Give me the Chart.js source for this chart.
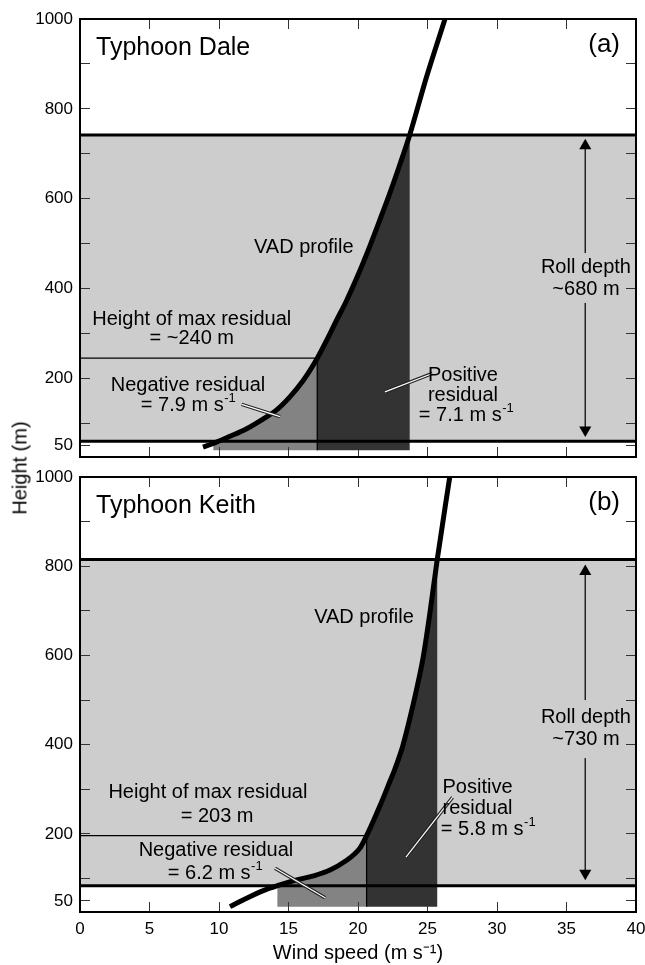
<!DOCTYPE html>
<html>
<head>
<meta charset="utf-8">
<script src="https://cdn.jsdelivr.net/npm/chart.js@4.4.1/dist/chart.umd.min.js"></script>
<style>
  html, body { margin: 0; padding: 0; background: #fff; }
  #wrap { position: relative; width: 645px; height: 965px; font-family: "Liberation Sans", Arial, sans-serif; }
  #topChart { position: absolute; left: 0; top: 0; }
  #botChart { position: absolute; left: 0; top: 470px; }
  #ylab { position: absolute; left: 20px; top: 468px; transform: translate(-50%, -50%) rotate(-90deg);
          font-size: 20px; white-space: nowrap; color: #000; }
</style>
</head>
<body>
<div id="wrap">
  <canvas id="topChart" width="645" height="470"></canvas>
  <canvas id="botChart" width="645" height="495"></canvas>
  <div id="ylab">Height (m)</div>
</div>
<script>
// axes
const windTicks = [0, 5, 10, 15, 20, 25, 30, 35, 40];
const heightTicks = [50, 100, 200, 300, 400, 500, 600, 700, 800, 900, 1000];
const heightLabels = [50, 200, 400, 600, 800, 1000];

// (a) Typhoon Dale - VAD wind profile
const daleSpeed  = [8.85, 9.59, 10.79, 11.99, 13.19, 14.15, 15.10, 16.07, 17.07, 17.75, 18.47, 19.19, 20.00, 20.86, 21.60, 22.30, 23.00, 23.72, 24.94, 26.26];
const daleHeight = [47, 55, 71, 88, 110, 130, 159, 196, 245, 285, 330, 374, 430, 495, 555, 613, 675, 742, 872, 1000];
const daleRoll = [60, 742];                 // roll layer bottom / top (m)
const daleResidSpeed = [9.59, 17.07, 23.72]; // negative left edge, max residual, positive right edge
const daleResidBase = 40;

// (b) Typhoon Keith - VAD wind profile
const keithSpeed  = [10.79, 11.99, 13.19, 14.20, 15.59, 16.79, 17.99, 19.19, 19.75, 20.14, 20.62, 21.58, 22.30, 22.66, 23.20, 23.70, 24.20, 24.70, 25.15, 25.70, 26.60];
const keithHeight = [37, 56, 73, 84, 97, 106, 119, 141, 155, 168, 196, 263, 318, 346, 395, 455, 522, 598, 690, 815, 1000];
const keithRoll = [84, 815];
const keithResidSpeed = [14.20, 20.62, 25.70];
const keithResidBase = 37;

// annotation layout (data units)
const daleLayout = {
  arrow: { x: 36.35, tips: [70, 733], gap: [368, 479] },
  pointers: [[{x: 11.63, y: 142}, {x: 14.39, y: 115}], [{x: 21.94, y: 170}, {x: 25.35, y: 211}]],
  texts: [
    { text: 'Typhoon Dale', x: 1.15, y: 936, align: 'left', size: 25 },
    { text: '(a)', x: 38.85, y: 943, align: 'right', size: 26 },
    { text: 'VAD profile', x: 16.1, y: 492 },
    { text: 'Height of max residual', x: 8.04, y: 332 },
    { text: '= ~240 m', x: 8.04, y: 288 },
    { text: 'Negative residual', x: 7.77, y: 184 },
    { text: '= 7.9 m s^-1', x: 7.77, y: 140 },
    { text: 'Positive', x: 27.55, y: 206 },
    { text: 'residual', x: 27.55, y: 162 },
    { text: '= 7.1 m s^-1', x: 27.77, y: 117 },
    { text: 'Roll depth', x: 36.4, y: 446 },
    { text: '~680 m', x: 36.4, y: 397 }
  ]
};
const keithLayout = {
  arrow: { x: 36.35, tips: [97, 803], gap: [370, 500] },
  pointers: [[{x: 14.03, y: 123}, {x: 17.63, y: 57}], [{x: 23.45, y: 148}, {x: 26.8, y: 282}]],
  texts: [
    { text: 'Typhoon Keith', x: 1.15, y: 935, align: 'left', size: 25 },
    { text: '(b)', x: 38.85, y: 941, align: 'right', size: 26 },
    { text: 'VAD profile', x: 20.43, y: 686 },
    { text: 'Height of max residual', x: 9.2, y: 293 },
    { text: '= 203 m', x: 9.86, y: 240 },
    { text: 'Negative residual', x: 9.78, y: 163 },
    { text: '= 6.2 m s^-1', x: 9.71, y: 112 },
    { text: 'Positive', x: 28.6, y: 304 },
    { text: 'residual', x: 28.6, y: 257 },
    { text: '= 5.8 m s^-1', x: 29.35, y: 210 },
    { text: 'Roll depth', x: 36.4, y: 460 },
    { text: '~730 m', x: 36.4, y: 411 }
  ]
};

const FONT = '"Liberation Sans", Arial, sans-serif';

// text labels placed through the chart scales
const panelText = {
  id: 'panelText',
  afterDatasetsDraw(chart, args, opts) {
    const { ctx, scales: { x, y } } = chart;
    ctx.save();
    ctx.fillStyle = '#000';
    ctx.textBaseline = 'middle';
    ctx.textAlign = 'left';
    for (const t of opts.items || []) {
      const px = x.getPixelForValue(t.x), py = y.getPixelForValue(t.y);
      const size = t.size || 20, supSize = 13;
      const [main, sup] = t.text.split('^');
      ctx.font = size + 'px ' + FONT;
      const wMain = ctx.measureText(main).width;
      let wSup = 0;
      if (sup) { ctx.font = supSize + 'px ' + FONT; wSup = ctx.measureText(sup).width; }
      const w = wMain + wSup;
      const left = t.align === 'left' ? px : t.align === 'right' ? px - w : px - w / 2;
      ctx.font = size + 'px ' + FONT;
      ctx.fillText(main, left, py);
      if (sup) { ctx.font = supSize + 'px ' + FONT; ctx.fillText(sup, left + wMain + 0.5, py - 7); }
    }
    ctx.restore();
  }
};

function line(data, color, width, extra) {
  return Object.assign({ data, borderColor: color, borderWidth: width, pointRadius: 0, fill: false, tension: 0 }, extra || {});
}
function shape(data, color) {
  return { data, borderWidth: 0, borderColor: color, backgroundColor: color, pointRadius: 0, fill: 'shape', tension: 0 };
}

function buildDatasets(speed, height, roll, resid, base, lay) {
  const pts = speed.map((s, i) => ({ x: s, y: height[i] }));
  const [xl, xm, xr] = resid;
  const hMax = height[speed.indexOf(xm)];
  const band = [{x: 0, y: roll[0]}, {x: 40, y: roll[0]}, {x: 40, y: roll[1]}, {x: 0, y: roll[1]}];
  const neg = [{x: xl, y: base}, {x: xm, y: base}].concat(pts.filter(p => p.x >= xl && p.x <= xm).reverse());
  const pos = [{x: xm, y: base}, {x: xr, y: base}].concat(pts.filter(p => p.x >= xm && p.x <= xr).reverse());
  const a = lay.arrow, headOff = 15;
  // back to front
  const list = [
    shape(band, '#cdcdcd'),
    shape(neg, '#838383'),
    shape(pos, '#333333'),
    line([{x: 0, y: hMax}, {x: xm, y: hMax}], '#000', 1.3),
    line([{x: xm, y: base}, {x: xm, y: hMax}], '#000', 1.3),
    line([{x: 0, y: roll[0]}, {x: 40, y: roll[0]}], '#000', 3),
    line([{x: 0, y: roll[1]}, {x: 40, y: roll[1]}], '#000', 3),
    line([{x: a.x, y: a.tips[0] + 5}, {x: a.x, y: a.gap[0]}], '#222', 1.5),
    line([{x: a.x, y: a.gap[1]}, {x: a.x, y: a.tips[1] - 5}], '#222', 1.5),
    { data: [{x: a.x, y: a.tips[0] + headOff}, {x: a.x, y: a.tips[1] - headOff}], showLine: false,
      pointStyle: 'triangle', pointRadius: 7, pointRotation: [180, 0], pointBorderWidth: 0,
      pointBackgroundColor: '#000', pointBorderColor: '#000' },
    line(pts, '#000', 5, { cubicInterpolationMode: 'monotone' })
  ];
  for (const p of lay.pointers) {
    list.push(line(p, '#222', 3.4));
    list.push(line(p, '#fff', 1.2));
  }
  list.forEach((d, i) => { d.order = list.length - i; });
  return list;
}

function tickGrid() {
  return { drawOnChartArea: false, drawTicks: true, tickLength: -10, color: '#333', lineWidth: 1, z: 1 };
}
const border = { display: true, color: '#000', width: 2, z: 2 };

// fix the box size and drop the label overhang padding so the plot area is exact
function fixBox(prop, size) {
  return s => {
    s[prop] = size;
    s.paddingTop = 0; s.paddingBottom = 0; s.paddingLeft = 0; s.paddingRight = 0;
  };
}

function makePanel(canvasId, ds, lay, showX, topH, botH) {
  const setWind = s => { s.ticks = windTicks.map(v => ({ value: v })); };
  const setHeight = s => { s.ticks = heightTicks.map(v => ({ value: v })); };
  return new Chart(document.getElementById(canvasId), {
    type: 'line',
    data: { datasets: ds },
    plugins: [panelText],
    options: {
      responsive: false,
      animation: false,
      layout: { padding: 0 },
      plugins: { legend: { display: false }, tooltip: { enabled: false }, panelText: { items: lay.texts } },
      scales: {
        x: {
          type: 'linear', position: 'bottom', min: 0, max: 40,
          afterBuildTicks: setWind,
          afterFit: fixBox('height', botH),
          grid: tickGrid(), border,
          ticks: { display: showX, padding: 17, color: '#000', font: { family: 'Liberation Sans', size: 17 }, maxRotation: 0 },
          title: { display: showX, text: 'Wind speed (m s\u207B\u00B9)', color: '#000',
                   font: { family: 'Liberation Sans', size: 20 }, padding: { top: 0, bottom: 0 } }
        },
        x2: {
          type: 'linear', position: 'top', min: 0, max: 40,
          afterBuildTicks: setWind,
          afterFit: fixBox('height', topH),
          grid: tickGrid(), border,
          ticks: { display: false }
        },
        y: {
          type: 'linear', position: 'left', min: 25, max: 1000,
          afterBuildTicks: setHeight,
          afterFit: fixBox('width', 80),
          grid: tickGrid(), border,
          ticks: { padding: 17, color: '#000', font: { family: 'Liberation Sans', size: 17 },
                   callback: v => heightLabels.includes(v) ? String(v) : '' }
        },
        y2: {
          type: 'linear', position: 'right', min: 25, max: 1000,
          afterBuildTicks: setHeight,
          afterFit: fixBox('width', 9),
          grid: tickGrid(), border,
          ticks: { display: false }
        }
      }
    }
  });
}

makePanel('topChart',
  buildDatasets(daleSpeed, daleHeight, daleRoll, daleResidSpeed, daleResidBase, daleLayout),
  daleLayout, false, 19, 13);
makePanel('botChart',
  buildDatasets(keithSpeed, keithHeight, keithRoll, keithResidSpeed, keithResidBase, keithLayout),
  keithLayout, true, 7, 53);
</script>
</body>
</html>
